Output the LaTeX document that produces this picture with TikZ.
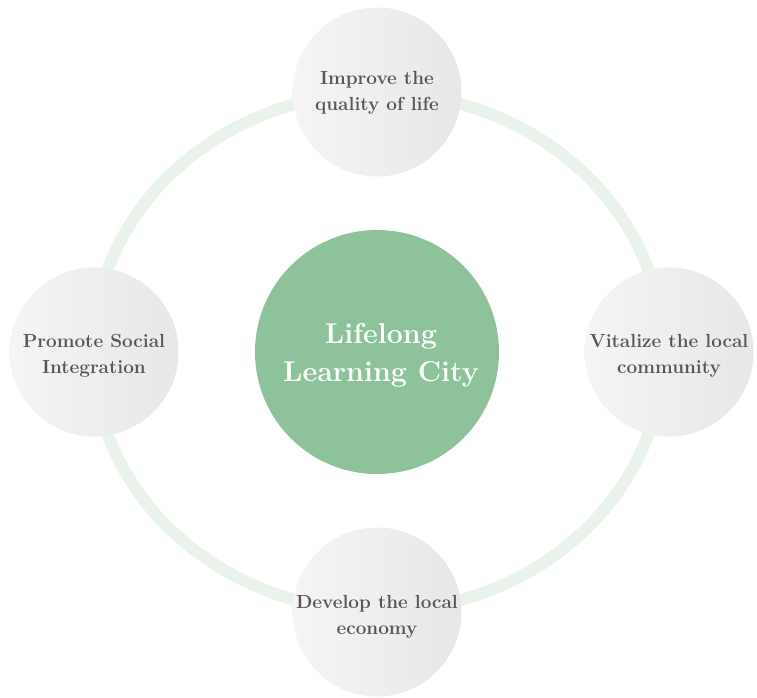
\documentclass[tikz,border=0pt]{standalone}
\usetikzlibrary{positioning}

\definecolor{ringgreen}{HTML}{E9F3EB}
\definecolor{hubgreen}{HTML}{8EC29B}
\definecolor{goalgray}{HTML}{555555}
\definecolor{goallight}{HTML}{F5F5F5}
\definecolor{goaldark}{HTML}{E7E7E7}

\tikzset{
    goal/.style={circle, inner sep=0pt, minimum size=126.75pt,
        left color=goallight, right color=goaldark, draw=none},
    goaltext/.style={inner sep=0pt, text=goalgray, align=center,
        font=\bfseries\fontsize{14.2}{19.5}\selectfont},
    hub/.style={circle, inner sep=0pt, minimum size=183pt, fill=hubgreen},
    hubtext/.style={inner sep=0pt, text=white, align=center,
        font=\bfseries\fontsize{21.5}{28.5}\selectfont}
}

\begin{document}
\begin{tikzpicture}[x=0.75pt, y=-0.75pt]

    % Page frame (pixels of the reference)
    \useasboundingbox (0,0) rectangle (757,697);

    % Ring behind the goals
    \draw[ringgreen, line width=9pt] (378,352) ellipse [x radius=285, y radius=259];

    % Hub in the middle
    \node[hub] (city) at (377,352) {};
    \node[hubtext] (citytext) at ([shift={(4,3)}]city.center) {Lifelong\\Learning City};

    % Goals round the ring
    \node[goal] (life) at (377,92) {};
    \node[goal] (community) at (669,352) {};
    \node[goal] (economy) at (377,612) {};
    \node[goal] (social) at (94,352) {};

    % Goal texts, a little below the centres as in the original
    \node[goaltext] (lifetext) at ([shift={(0,1)}]life.center) {Improve the\\quality of life};
    \node[goaltext] (communitytext) at ([shift={(0,4)}]community.center) {Vitalize the local\\community};
    \node[goaltext] (economytext) at ([shift={(0,5)}]economy.center) {Develop the local\\economy};
    \node[goaltext] (socialtext) at ([shift={(0,4)}]social.center) {Promote Social\\Integration};

\end{tikzpicture}
\end{document}
